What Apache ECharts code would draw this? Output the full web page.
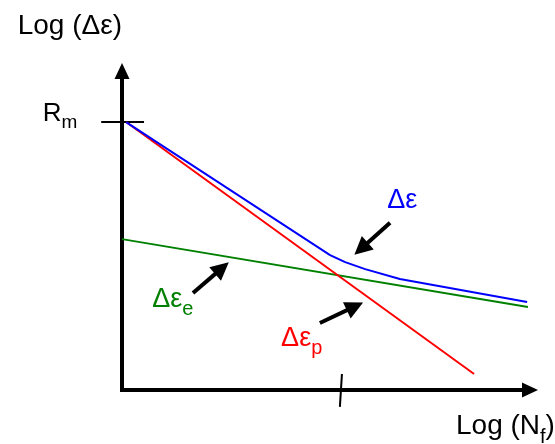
<!DOCTYPE html>
<html>
<head>
<meta charset="utf-8">
<script src="https://cdn.jsdelivr.net/npm/echarts@6/dist/echarts.min.js"></script>
<style>
  html, body { margin: 0; padding: 0; background: #fff; }
  #chart { width: 555px; height: 444px; }
</style>
</head>
<body>
<div id="chart"></div>
<script>
// schematic values, log units (x: log Nf, y: log strain range)
const plasticLine = [[0.1, 8.4], [8.63, 0.5]];
const elasticLine = [[0, 4.73], [9.95, 2.6]];
const totalLine = [[0.1, 8.4], [5.1, 4.23], [5.47, 4.01], [5.96, 3.79], [6.81, 3.48], [9.93, 2.76]];

const rmTick = [[-0.51, 8.4], [0.54, 8.4]];
const nfTick = [[5.39, 0.5], [5.34, -0.53]];

// annotation arrows: tail -> head
const arrows = [
    [[6.57, 5.24], [5.86, 4.43]],
    [[1.74, 3.04], [2.45, 3.82]],
    [[4.85, 2.10], [5.71, 2.62]]
];

// labels: [x, y, text, color]
const labels = [
    [-1.94, 8.66, '{r|R}{rs|m}', '#000000'],
    [6.50, 5.94, '{g|Δε}', '#0000ff'],
    [0.74, 2.84, '{g|Δε}{gs|e}', '#008000'],
    [3.90, 1.60, '{g|Δε}{gs|p}', '#ff0000']
];

const font = "'Liberation Sans', Arial, sans-serif";

function makeRich(color) {
    return {
        a: { color: color, fontFamily: font, fontSize: 28, lineHeight: 40 },
        as: { color: color, fontFamily: font, fontSize: 20, lineHeight: 10, verticalAlign: 'top', padding: [21, 0, 0, 0] },
        r: { color: color, fontFamily: font, fontSize: 26, lineHeight: 40 },
        rs: { color: color, fontFamily: font, fontSize: 19, lineHeight: 10, verticalAlign: 'top', padding: [20, 0, 0, 0] },
        g: { color: color, fontFamily: font, fontSize: 27, lineHeight: 40 },
        gs: { color: color, fontFamily: font, fontSize: 20, lineHeight: 10, verticalAlign: 'top', padding: [20, 0, 0, 0] }
    };
}

const axisLine = {
    lineStyle: { color: '#000', width: 4, cap: 'square' },
    symbol: ['none', 'triangle'],
    symbolSize: [15, 16]
};

var chart = echarts.init(document.getElementById('chart'));
chart.setOption({
    animation: false,
    grid: { left: 122, top: 71, right: 25, bottom: 54, containLabel: false, outerBoundsMode: 'none' },
    xAxis: {
        type: 'value', min: 0, max: 10,
        axisLine: axisLine,
        axisTick: { show: false }, axisLabel: { show: false }, splitLine: { show: false },
        name: '{a|Log (N}{as|f}{a|)}',
        nameLocation: 'end',
        nameGap: -74,
        nameTextStyle: { color: '#000', align: 'left', verticalAlign: 'middle', padding: [73, 0, 0, 0], rich: makeRich('#000') }
    },
    yAxis: {
        type: 'value', min: 0, max: 10,
        axisLine: axisLine,
        axisTick: { show: false }, axisLabel: { show: false }, splitLine: { show: false },
        name: 'Log (Δε)',
        nameLocation: 'end',
        nameGap: 44.5,
        nameTextStyle: { color: '#000', fontFamily: font, fontSize: 28, lineHeight: 40, align: 'right', verticalAlign: 'middle' }
    },
    series: [
        {
            type: 'line', data: elasticLine, clip: false, symbol: 'none',
            lineStyle: { color: '#008000', width: 2 }
        },
        {
            type: 'line', data: plasticLine, clip: false, symbol: 'none',
            lineStyle: { color: '#ff0000', width: 2 }
        },
        {
            type: 'line', data: totalLine, clip: false, symbol: 'none',
            lineStyle: { color: '#0000ff', width: 2 }
        },
        {
            type: 'lines', coordinateSystem: 'cartesian2d', clip: false,
            symbol: ['none', 'none'],
            lineStyle: { color: '#000', width: 2, opacity: 1 },
            data: [{ coords: rmTick }, { coords: nfTick }]
        },
        {
            type: 'lines', coordinateSystem: 'cartesian2d', clip: false,
            symbol: ['none', 'triangle'], symbolSize: 18,
            lineStyle: { color: '#000', width: 4, opacity: 1 },
            data: arrows.map(function (a) { return { coords: a }; })
        },
        {
            type: 'scatter', clip: false, symbolSize: 0,
            itemStyle: { color: '#fff', opacity: 1 },
            data: labels.map(function (l) {
                return {
                    value: [l[0], l[1]],
                    label: {
                        show: true, position: 'right', distance: 0, opacity: 1,
                        formatter: l[2], color: l[3], rich: makeRich(l[3])
                    }
                };
            })
        }
    ]
});
</script>
</body>
</html>
